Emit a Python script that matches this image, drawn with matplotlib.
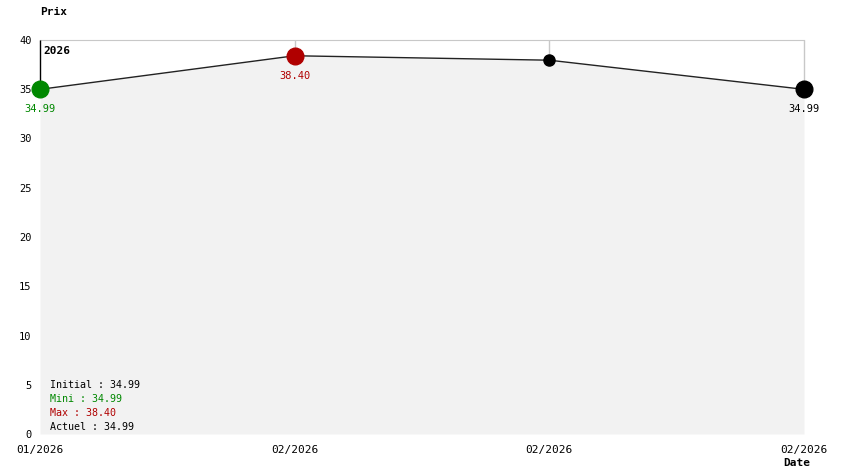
import matplotlib
matplotlib.use("Agg")
import matplotlib.pyplot as plt

dates = ["01/2026", "02/2026", "02/2026", "02/2026"]
prices = [34.99, 38.40, 37.95, 34.99]
yticks = [0, 5, 10, 15, 20, 25, 30, 35, 40]
summary = [("Initial : 34.99", "black"), ("Mini : 34.99", "#008800"),
           ("Max : 38.40", "#b00000"), ("Actuel : 34.99", "black")]

plt.rcParams['font.family'] = ['DejaVu Sans Mono']
W, H = 844, 474
fig = plt.figure(figsize=(W/100, H/100), dpi=100)
ax = fig.add_axes([40/W, (H-434)/H, (804-40)/W, (434-40)/H])
xs = list(range(len(prices)))
ax.set_xlim(0, len(prices)-1)
ax.set_ylim(0, 40)

for s in ['bottom', 'right', 'left']:
    ax.spines[s].set_visible(False)
ax.spines['top'].set_color('#c8c8c8')
ax.spines['top'].set_zorder(0.5)

ax.vlines(xs[1:], prices[1:], 40, color='#c8c8c8', lw=1, zorder=0.5, clip_on=False)
ax.vlines(xs[0], prices[0], 40, color='black', lw=1, zorder=0.6, clip_on=False)

ax.fill_between(xs, prices, 0, color='#f2f2f2', zorder=1, lw=0)
ax.plot(xs, prices, color='#222222', lw=1, zorder=2)

ax.plot(xs[0], prices[0], 'o', color='#008800', ms=12, zorder=3, clip_on=False)
ax.plot(xs[1], prices[1], 'o', color='#b00000', ms=12, zorder=3, clip_on=False)
ax.plot(xs[2], prices[2], 'o', color='black', ms=8, zorder=3, clip_on=False)
ax.plot(xs[3], prices[3], 'o', color='black', ms=12, zorder=3, clip_on=False)

for i, c in [(0, '#008800'), (1, '#b00000'), (3, 'black')]:
    ax.annotate(f"{prices[i]:.2f}", (xs[i], prices[i]), xytext=(0, -18), textcoords='offset points',
                ha='center', va='bottom', color=c, fontsize=7.5, zorder=4)

ax.set_yticks(yticks)
ax.set_yticklabels([str(v) for v in yticks], fontsize=7.5)
ax.set_xticks(xs)
ax.set_xticklabels(dates, fontsize=8)
ax.tick_params(axis='both', length=0)
ax.tick_params(axis='y', pad=6)
ax.tick_params(axis='x', pad=8)

ax.text(0.004, 0.985, "2026", transform=ax.transAxes, fontsize=8, fontweight='bold', va='top', ha='left')

fig.text(40/W, 1-12/H, "Prix", fontsize=8, fontweight='bold', ha='left', va='center')
fig.text(797/W, 1-463/H, "Date", fontsize=8, fontweight='bold', ha='center', va='center')

for i, (t, c) in enumerate(summary):
    fig.text(50/W, 1-(385+14*i)/H, t, fontsize=7.2, color=c, ha='left', va='center')

fig.savefig("out.png", dpi=100)
